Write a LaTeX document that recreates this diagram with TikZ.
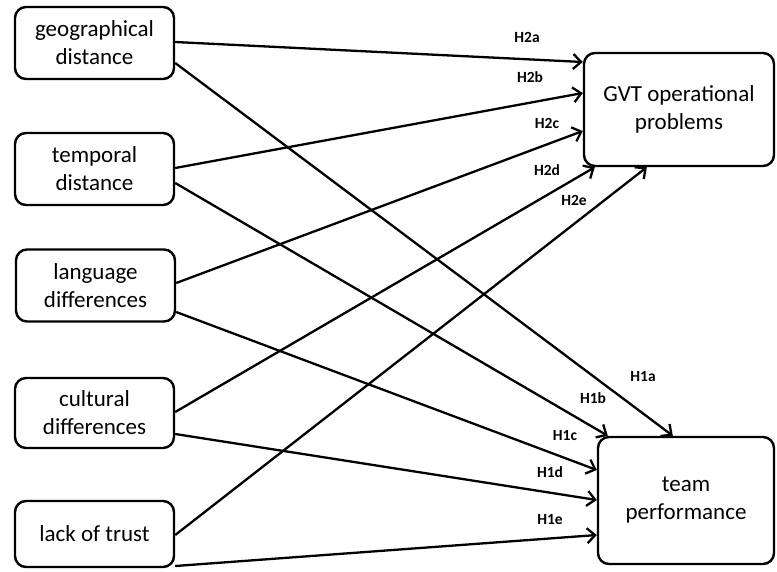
\documentclass[tikz,border=0pt]{standalone}
\usepackage{fontspec}
\setmainfont{Carlito}
\usetikzlibrary{arrows.meta,calc}
\begin{document}
\begin{tikzpicture}[x=1pt,y=-1pt,
  box/.style={draw,line width=2.4pt,rounded corners=11pt,align=center,inner sep=0pt,
    font=\fontsize{23}{28}\selectfont},
  leftbox/.style={box,minimum width=159pt,minimum height=72pt},
  arr/.style={line width=2.3pt,-{Straight Barb[length=8pt,width=15pt]}},
  lab/.style={font=\fontsize{15.5}{17}\selectfont\bfseries,inner sep=0pt}]
\useasboundingbox (0,0) rectangle (777,571);
\node[leftbox] (geo) at (94.5,43) {geographical\\distance};
\node[leftbox] (tem) at (94.5,169) {temporal\\distance};
\node[leftbox] (lan) at (95.5,285.5) {language\\differences};
\node[leftbox,minimum height=70pt] (cul) at (94.5,413) {cultural\\differences};
\node[leftbox,minimum height=66pt] (tru) at (94.5,534) {lack of trust};
\node[box,minimum width=190pt,minimum height=113pt] (gvt) at (679,109.5) {GVT operational\\problems};
\node[box,minimum width=176pt,minimum height=127pt] (team) at (686,500.5) {team\\performance};
% H2 arrows
\draw[arr] (geo.east |- 0,42) -- (gvt.west |- 0,62);
\draw[arr] (tem.east |- 0,168) -- (gvt.west |- 0,93);
\draw[arr] (lan.east |- 0,283) -- (gvt.west |- 0,131);
\draw[arr] (cul.east |- 0,412) -- ([xshift=12pt]gvt.south west);
\draw[arr] (tru.east |- 0,535) -- ([xshift=64pt]gvt.south west);
% H1 arrows
\draw[arr] (geo.east |- 0,63) -- ([xshift=76pt]team.north west);
\draw[arr] (tem.east |- 0,183) -- ([xshift=11pt]team.north west);
\draw[arr] (lan.east |- 0,312) -- (team.west |- 0,470);
\draw[arr] (cul.east |- 0,434) -- (team.west |- 0,500);
\draw[arr] (tru.east |- 0,566) -- (team.west |- 0,535);
% labels
\node[lab] (l2a) at (527,37) {H2a};
\node[lab] (l2b) at (530,77) {H2b};
\node[lab] (l2c) at (547,123) {H2c};
\node[lab] (l2d) at (547,170) {H2d};
\node[lab] (l2e) at (574,200) {H2e};
\node[lab] (l1a) at (643,377) {H1a};
\node[lab] (l1b) at (593,398) {H1b};
\node[lab] (l1c) at (565,436) {H1c};
\node[lab] (l1d) at (550,472) {H1d};
\node[lab] (l1e) at (550,520) {H1e};
\end{tikzpicture}
\end{document}
